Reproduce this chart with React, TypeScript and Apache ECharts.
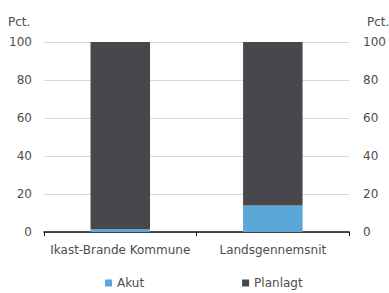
import React, { useEffect, useRef } from "react";
import * as echarts from "echarts";

const categories = ["Ikast-Brande Kommune", "Landsgennemsnit"];
const akut = [1.5, 14];
const planlagt = [98.5, 86];
const yTicks = [0, 20, 40, 60, 80, 100];

export default function App() {
  const ref = useRef<HTMLDivElement>(null);
  useEffect(() => {
    const chart = echarts.init(ref.current!, null, { renderer: "svg" });
    const font = "DejaVu Sans, sans-serif";
    const txt = "#4d4d4d";
    chart.setOption({
      animation: false,
      backgroundColor: "#ffffff",
      textStyle: { fontFamily: font },
      grid: { left: 44, right: 35, top: 42, bottom: 61 },
      graphic: [
        { type: "text", left: 8, top: 16, style: { text: "Pct.", fontSize: 12, fill: txt, fontFamily: font } },
        { type: "text", left: 367, top: 16, style: { text: "Pct.", fontSize: 12, fill: txt, fontFamily: font } },
      ],
      legend: {
        left: 105,
        top: 277,
        padding: 0,
        itemWidth: 7,
        itemHeight: 7,
        itemGap: 98,
        icon: "rect",
        textStyle: { fontSize: 12, color: txt, fontFamily: font },
        data: ["Akut", "Planlagt"],
      },
      xAxis: {
        type: "category",
        data: categories,
        axisLine: { lineStyle: { color: "#111", width: 1.5 } },
        axisTick: { show: true, length: 4, lineStyle: { color: "#111" } },
        axisLabel: { color: txt, fontSize: 12, margin: 12, interval: 0, fontFamily: font },
      },
      yAxis: [
        {
          type: "value",
          min: 0,
          max: 100,
          interval: 20,
          axisLabel: { color: txt, fontSize: 12, margin: 12, fontFamily: font },
          splitLine: { lineStyle: { color: "#d9d9d9" } },
          axisLine: { show: false },
          axisTick: { show: false },
        },
        {
          type: "value",
          min: 0,
          max: 100,
          interval: 20,
          position: "right",
          axisLabel: { color: txt, fontSize: 12, margin: 14, fontFamily: font },
          splitLine: { show: false },
          axisLine: { show: false },
          axisTick: { show: false },
        },
      ],
      series: [
        {
          name: "Akut",
          type: "bar",
          stack: "a",
          data: akut,
          barWidth: "39%",
          itemStyle: { color: "#5aa7d8" },
        },
        {
          name: "Planlagt",
          type: "bar",
          stack: "a",
          data: planlagt,
          barWidth: "39%",
          itemStyle: { color: "#48484c" },
        },
      ],
    });
    return () => chart.dispose();
  }, []);
  return <div ref={ref} style={{ width: 389, height: 293, position: "absolute", left: 0, top: 0 }} />;
}
